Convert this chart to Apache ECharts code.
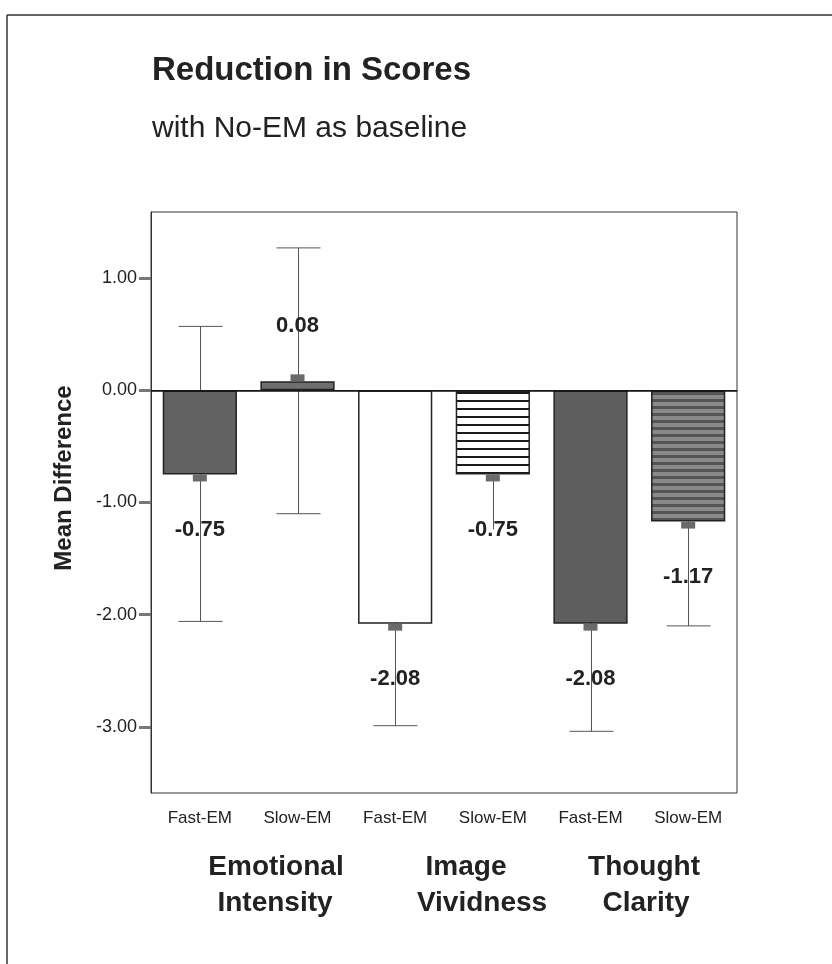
<!DOCTYPE html>
<html><head><meta charset="utf-8">
<script src="https://cdn.jsdelivr.net/npm/echarts@6/dist/echarts.min.js"></script>
<style>html,body{margin:0;padding:0;background:#fff}#c{width:832px;height:964px}</style>
</head><body><div id="c"></div>
<script>
// ---- data ----
const categories = ['Fast-EM', 'Slow-EM', 'Fast-EM', 'Slow-EM', 'Fast-EM', 'Slow-EM'];
const meanDiff = [-0.75, 0.08, -2.08, -0.75, -2.08, -1.17];
const ciLow = [-2.06, -1.10, -2.99, -1.24, -3.04, -2.10];
const ciHigh = [0.57, 1.27, -1.17, -0.26, -1.12, -0.24];
const lowCapShown = [true, true, true, false, true, true];
const groupLabels = [['Emotional', 'Intensity'], ['Image', 'Vividness'], ['Thought', 'Clarity']];
const yTickValues = [-3, -2, -1, 0, 1];
const titleText = 'Reduction in Scores';
const subtitleText = 'with No-EM as baseline';
const yAxisTitle = 'Mean Difference';

// ---- styling ----
const FONT = '"Liberation Sans", Arial, Helvetica, sans-serif';
function stripes(bg, fg, period, thick) {
  const c = document.createElement('canvas');
  c.width = 8; c.height = period;
  const g = c.getContext('2d');
  g.fillStyle = bg; g.fillRect(0, 0, 8, period);
  g.fillStyle = fg; g.fillRect(0, 0, 8, thick);
  return { image: c, repeat: 'repeat' };
}
const barFills = [
  '#626262',
  '#6e6e6e',
  '#ffffff',
  stripes('#ffffff', '#1a1a1a', 8, 2),
  '#5e5e5e',
  stripes('#8a8a8a', '#555555', 7, 3)
];

const chart = echarts.init(document.getElementById('c'), null, { renderer: 'canvas' });

const groupX = [[276, 275], [466, 482], [644, 646]];
const graphics = [
  { type: 'line', shape: { x1: 7, y1: 15, x2: 7, y2: 964 }, style: { stroke: '#333', lineWidth: 1.5 } },
  { type: 'line', shape: { x1: 7, y1: 15, x2: 832, y2: 15 }, style: { stroke: '#333', lineWidth: 1.5 } },
  { type: 'text', x: 152, y: 71, style: { text: titleText, font: 'bold 33px ' + FONT, fill: '#222', textAlign: 'left', textVerticalAlign: 'middle' } },
  { type: 'text', x: 152, y: 129, style: { text: subtitleText, font: '30px ' + FONT, fill: '#222', textAlign: 'left', textVerticalAlign: 'middle' } },
  { type: 'text', x: 64, y: 478, rotation: Math.PI / 2, style: { text: yAxisTitle, font: 'bold 24px ' + FONT, fill: '#222', textAlign: 'center', textVerticalAlign: 'middle' } }
];
groupLabels.forEach((lines, gi) => {
  lines.forEach((t, li) => {
    graphics.push({ type: 'text', x: groupX[gi][li], y: 867 + li * 36, style: { text: t, font: 'bold 28px ' + FONT, fill: '#222', textAlign: 'center', textVerticalAlign: 'middle' } });
  });
});

chart.setOption({
  animation: false,
  backgroundColor: '#fff',
  grid: { left: 151, right: 95, top: 212, bottom: 171, show: true, borderColor: '#333', borderWidth: 1, backgroundColor: 'transparent', containLabel: false },
  xAxis: {
    type: 'category',
    data: categories,
    axisLine: { lineStyle: { color: '#333', width: 1 } },
    axisTick: { alignWithLabel: true, length: 9, lineStyle: { color: '#777', width: 3 } },
    axisLabel: { fontFamily: FONT, fontSize: 17, color: '#222', margin: 17 },
    splitLine: { show: false }
  },
  yAxis: {
    type: 'value',
    min: -3.59, max: 1.59,
    axisLine: { show: true, lineStyle: { color: '#333', width: 1 } },
    axisTick: { show: true, length: 12, customValues: yTickValues, lineStyle: { color: '#777', width: 3 } },
    axisLabel: { fontFamily: FONT, fontSize: 18, color: '#222', margin: 14, customValues: yTickValues, formatter: v => v.toFixed(2) },
    splitLine: { show: false }
  },
  graphic: graphics,
  series: [
    {
      type: 'custom',
      z: 1,
      renderItem: function (params, api) {
        const i = api.value(0);
        const lo = api.coord([i, api.value(1)]);
        const hi = api.coord([i, api.value(2)]);
        const x = Math.round(lo[0]) + 0.5, cap = 22;
        const st = { stroke: '#555', lineWidth: 1 };
        const ch = [
          { type: 'line', shape: { x1: x, y1: hi[1], x2: x, y2: lo[1] }, style: st },
          { type: 'line', shape: { x1: x - cap, y1: hi[1], x2: x + cap, y2: hi[1] }, style: st }
        ];
        if (api.value(3)) ch.push({ type: 'line', shape: { x1: x - cap, y1: lo[1], x2: x + cap, y2: lo[1] }, style: st });
        return { type: 'group', children: ch };
      },
      data: categories.map((c, i) => [i, ciLow[i], ciHigh[i], lowCapShown[i] ? 1 : 0]),
      silent: true
    },
    {
      type: 'bar',
      z: 2,
      barWidth: '76%',
      data: meanDiff.map((v, i) => ({ value: v, itemStyle: { color: barFills[i], borderColor: '#222', borderWidth: 1.5 } })),
      markLine: {
        silent: true, symbol: 'none', label: { show: false },
        lineStyle: { color: '#111', type: 'solid', width: 1.5 },
        data: [{ yAxis: 0 }]
      }
    },
    {
      type: 'custom',
      z: 3,
      renderItem: function (params, api) {
        const i = api.value(0), v = api.value(1);
        const p = api.coord([i, v]);
        const dir = v >= 0 ? -1 : 1;
        const mw = 14, mh = 7;
        return {
          type: 'group', children: [
            { type: 'rect', shape: { x: p[0] - mw / 2, y: dir > 0 ? p[1] : p[1] - mh, width: mw, height: mh }, style: { fill: '#6a6a6a' } },
            { type: 'text', x: p[0], y: p[1] + dir * 55, style: { text: v.toFixed(2), font: 'bold 22px ' + FONT, fill: '#222', textAlign: 'center', textVerticalAlign: 'middle' } }
          ]
        };
      },
      data: meanDiff.map((v, i) => [i, v]),
      silent: true
    }
  ]
});
</script>
</body></html>
